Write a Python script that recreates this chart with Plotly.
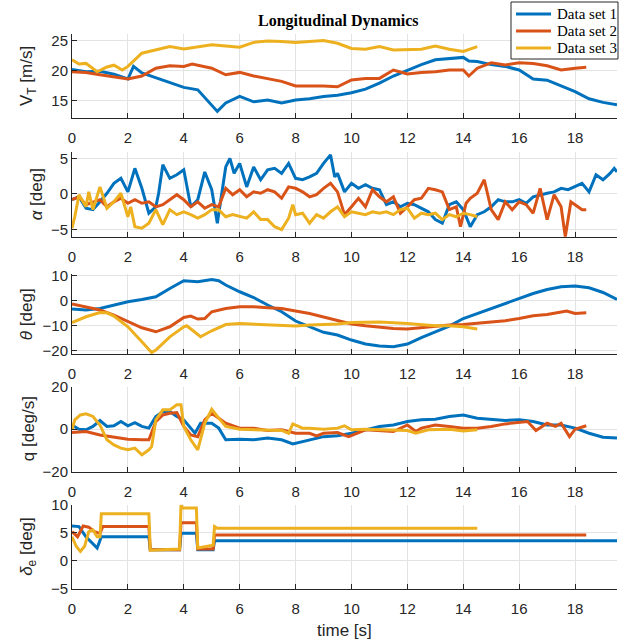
import plotly.graph_objects as go

C1, C2, C3 = "#0072BD", "#D95319", "#EDB120"
names = ["Data set 1", "Data set 2", "Data set 3"]

# ---------------- Panel 1: V_T [m/s]
vt_t = [0, 0.5, 1, 1.5, 2, 2.2, 2.5, 3, 3.5, 4, 4.5, 5, 5.2, 5.5, 6, 6.5, 7, 7.5, 8, 8.5, 9, 9.5, 10,
        10.5, 11, 11.5, 12, 12.5, 13, 13.5, 14, 14.2, 14.5, 15, 15.5, 16, 16.5, 17, 17.5, 18, 18.5, 19, 19.5]
vt1 = [20.2, 19.8, 19.9, 19.4, 18.6, 20.7, 19.6, 18.8, 17.9, 17.2, 16.8, 14.3, 13.2, 14.6, 15.7, 14.8, 15.1,
       14.6, 15.1, 15.3, 15.7, 15.9, 16.3, 16.9, 17.9, 19.1, 20.1, 21.0, 21.8, 21.95, 22.2, 21.6, 21.5, 21.0,
       20.7, 20.1, 18.6, 18.4, 17.45, 16.5, 15.3, 14.7, 14.3]
vt2_t = [0, 0.5, 1, 1.5, 2, 2.5, 3, 3.5, 4, 4.3, 4.5, 5, 5.5, 6, 6.5, 7, 7.5, 8, 8.5, 9, 9.5, 10, 10.5,
         11, 11.5, 12, 12.5, 13, 13.5, 14, 14.2, 14.5, 15, 15.5, 16, 16.5, 17, 17.5, 18, 18.4]
vt2 = [19.8, 19.7, 19.3, 19.0, 18.6, 19.1, 20.4, 20.8, 20.7, 21.1, 20.9, 20.4, 19.3, 19.7, 19.1, 18.6, 18.2,
       17.45, 17.45, 17.45, 17.3, 18.45, 18.7, 18.7, 20.1, 19.45, 19.7, 19.8, 20.1, 20.1, 19.1, 20.4, 21.3,
       20.95, 21.3, 21.2, 20.8, 20.1, 20.4, 20.55]
vt3_t = [0, 0.25, 0.5, 0.75, 0.9, 1.25, 1.5, 1.8, 2, 2.5, 3, 3.5, 4, 4.5, 5, 5.5, 6, 6.5, 7, 7.5, 8, 8.5,
         9, 9.5, 10, 10.5, 11, 11.5, 12, 12.5, 13, 13.5, 14, 14.5]
vt3 = [21.8, 21.1, 21.2, 20.4, 19.8, 20.6, 20.9, 20.1, 20.7, 22.9, 23.45, 24.0, 23.6, 24.0, 24.3, 24.1, 23.9,
       24.7, 24.95, 24.85, 24.7, 24.85, 25.0, 24.55, 23.7, 23.55, 24.0, 23.45, 23.55, 23.55, 24.1, 23.55,
       23.2, 24.0]

# ---------------- Panel 2: alpha [deg]
a1_t = [0, 0.25, 0.5, 0.75, 1, 1.25, 1.5, 1.75, 2, 2.25, 2.5, 2.75, 3, 3.1, 3.25, 3.5, 3.75, 4, 4.25, 4.5,
        4.75, 5, 5.2, 5.35, 5.5, 5.65, 5.8, 6, 6.25, 6.5, 6.75, 7, 7.25, 7.5, 7.75, 8, 8.25, 8.5, 8.75, 9,
        9.25, 9.4, 9.5, 9.75, 10, 10.25, 10.5, 10.75, 11, 11.25, 11.5, 11.75, 12, 12.25, 12.5, 12.75, 13,
        13.25, 13.5, 13.75, 14, 14.25, 14.5, 14.75, 15, 15.25, 15.5, 15.75, 16, 16.25, 16.5, 16.75, 17,
        17.25, 17.5, 17.75, 18, 18.25, 18.5, 18.75, 19, 19.25, 19.4, 19.5]
a1 = [-0.8, -0.4, -2.0, -2.2, -1.1, 0.1, 1.5, 2.2, 0.3, 3.6, 0.8, -2.7, -1.8, 0.1, 4.1, 2.2, 2.7, 3.4, -1.8,
      -0.8, 3.1, 0.6, -4.1, -0.4, 3.8, 5.0, 2.9, 4.3, 1.0, 3.8, 2.0, 3.4, 3.6, 2.9, 4.3, 2.2, 2.0, 2.4, 2.9,
      4.3, 5.5, 2.4, 2.9, 0.3, 1.5, 0.8, 1.3, 0.8, 0.6, -1.5, -1.1, -1.8, -1.3, -1.5, -2.0, -2.5, -3.6, -4.1,
      -1.5, -1.1, -2.2, -4.6, -2.9, -2.5, -1.8, -0.8, -1.1, -1.1, -0.8, -1.3, -0.4, -0.1, 0.1, 0.3, 0.8, 0.6,
      1.0, 1.5, 0.3, 2.7, 2.0, 2.9, 3.6, 3.1]
a2_t = [0, 0.25, 0.5, 0.75, 1, 1.25, 1.5, 1.75, 2, 2.25, 2.5, 2.75, 3, 3.25, 3.5, 3.75, 4, 4.25, 4.5, 4.75,
        5, 5.25, 5.5, 5.75, 6, 6.25, 6.5, 6.75, 7, 7.25, 7.5, 7.75, 8, 8.25, 8.5, 8.75, 9, 9.25, 9.5, 9.75,
        10, 10.25, 10.5, 10.75, 11, 11.25, 11.5, 11.75, 12, 12.25, 12.5, 12.75, 13, 13.25, 13.5, 13.75,
        13.9, 14.1, 14.25, 14.5, 14.75, 15, 15.25, 15.5, 15.75, 16, 16.25, 16.5, 16.75, 17, 17.25, 17.5,
        17.65, 17.85, 18, 18.25, 18.4]
a2 = [-0.8, -0.4, -1.5, -1.1, -0.8, -1.8, -1.1, -0.6, -1.3, -0.8, -1.3, -1.1, -1.8, -1.5, -0.8, -0.1, -0.8,
      -1.8, -1.1, -2.0, -1.5, -1.8, 0.8, -0.1, 0.6, -0.4, 0.3, 0.1, 0.6, 0.3, -0.6, 1.0, 0.8, 0.3, -0.4, -0.1,
      0.8, 1.5, 0.3, -2.9, -1.8, -0.6, -1.8, 0.6, -0.4, -1.1, -0.4, -2.7, -1.8, -0.8, -0.6, 0.8, 0.6, 0.3,
      -2.2, -1.8, -4.6, -1.3, -0.6, 0.1, 2.0, -2.2, -3.6, -1.1, -2.2, -1.1, -1.5, -2.7, 0.8, -3.6, -0.1, -1.8,
      -6.0, -1.1, -1.5, -2.2, -2.2]
a3_t = [0, 0.1, 0.25, 0.5, 0.6, 0.75, 1, 1.25, 1.5, 1.75, 2, 2.1, 2.25, 2.5, 2.75, 3, 3.25, 3.5, 3.75, 4,
        4.25, 4.5, 4.75, 5, 5.25, 5.5, 5.75, 6, 6.25, 6.5, 6.75, 7, 7.25, 7.5, 7.75, 7.9, 8, 8.25, 8.5, 8.75,
        9, 9.25, 9.5, 9.75, 10, 10.25, 10.5, 10.75, 11, 11.25, 11.5, 11.75, 12, 12.25, 12.5, 12.75, 13,
        13.25, 13.5, 13.75, 14, 14.25, 14.5]
a3 = [-4.8, -3.2, -0.1, -1.8, 0.3, -2.2, 1.0, -2.0, -1.1, 0.1, -3.2, -1.8, -4.6, -4.8, -4.1, -2.2, -4.3,
      -2.2, -2.9, -2.5, -2.9, -3.4, -2.9, -2.2, -2.2, -3.2, -2.9, -3.2, -3.4, -2.5, -3.6, -3.6, -4.6, -5.0,
      -3.4, -1.5, -2.9, -2.7, -4.1, -2.9, -3.4, -2.5, -1.8, -3.2, -2.5, -2.7, -2.9, -2.5, -2.7, -2.5, -2.9,
      -2.2, -2.0, -3.4, -2.7, -2.9, -2.7, -3.6, -2.9, -3.2, -2.7, -2.9, -3.2]

# ---------------- Panel 3: theta [deg]
th1_t = [0, 0.5, 1, 1.5, 2, 2.5, 3, 3.5, 4, 4.5, 5, 5.25, 5.5, 6, 6.5, 7, 7.5, 8, 8.5, 9, 9.5, 10, 10.5,
         11, 11.5, 12, 12.5, 13, 13.5, 14, 14.5, 15, 15.5, 16, 16.5, 17, 17.5, 18, 18.5, 19, 19.5]
th1 = [-3.3, -3.7, -3.1, -1.7, -0.4, 0.5, 1.6, 4.9, 8.0, 7.6, 8.5, 8.0, 6.3, 3.6, 1.3, -1.7, -4.4, -8.1,
       -10.4, -12.6, -13.7, -15.7, -17.3, -18.1, -18.4, -17.3, -14.7, -12.4, -10.1, -7.1, -5.1, -3.1, -1.1,
       0.9, 2.9, 4.5, 5.6, 5.9, 5.2, 3.3, 0.5]
th2_t = [0, 0.5, 1, 1.5, 2, 2.5, 3, 3.5, 4, 4.25, 4.5, 4.75, 5, 5.5, 6, 6.5, 7, 7.5, 8, 8.5, 9, 9.5, 10,
         10.5, 11, 11.5, 12, 12.5, 13, 13.5, 14, 14.5, 15, 15.5, 16, 16.5, 17, 17.5, 17.7, 18, 18.4]
th2 = [-1.3, -2.4, -3.7, -5.7, -8.1, -10.8, -12.4, -10.4, -6.7, -6.1, -7.3, -7.1, -4.4, -3.1, -2.4, -2.4,
       -2.8, -3.1, -4.1, -5.1, -6.5, -8.0, -9.3, -10.0, -10.7, -11.1, -11.3, -10.7, -10.1, -9.7, -9.5, -9.1,
       -8.7, -8.0, -7.1, -6.0, -5.5, -4.4, -4.1, -5.1, -4.8]
th3_t = [0, 0.5, 1, 1.25, 1.5, 2, 2.5, 2.85, 3, 3.5, 4, 4.1, 4.3, 4.6, 5, 5.5, 6, 6.5, 7, 7.5, 8, 8.5, 9,
         9.5, 10, 11, 12, 12.5, 13, 13.5, 14, 14.5]
th3 = [-8.7, -6.4, -4.7, -4.8, -6.1, -10.4, -16.4, -20.7, -19.7, -14.4, -10.4, -10.0, -11.7, -14.4, -12.0,
       -9.5, -9.1, -9.3, -9.5, -10.0, -10.1, -9.7, -9.5, -9.3, -8.7, -8.5, -9.1, -9.7, -10.0, -10.0, -10.4,
       -11.3]

# ---------------- Panel 4: q [deg/s]
q1_t = [0, 0.25, 0.5, 0.75, 1, 1.25, 1.5, 1.75, 2, 2.25, 2.5, 2.75, 3, 3.25, 3.5, 3.75, 4, 4.25, 4.4, 4.6,
        5, 5.25, 5.5, 6, 6.5, 7, 7.5, 7.9, 8.5, 9, 9.5, 10, 10.5, 11, 11.5, 12, 12.5, 13, 13.5, 14, 14.5,
        15, 15.5, 16, 16.5, 17, 17.5, 18, 18.5, 19, 19.5]
q1 = [2.0, 0.0, -0.3, 1.3, 4.1, 1.3, 1.6, 3.6, 1.6, 3.1, 1.3, 0.5, 6.0, 8.3, 8.3, 6.0, 4.4, 0.5, -1.9, 2.8,
      2.8, 0.5, -5.0, -4.7, -5.0, -4.2, -5.0, -6.9, -5.0, -3.5, -3.1, -1.9, -0.3, 1.3, 2.0, 3.6, 4.4, 4.7,
      6.0, 6.7, 5.2, 4.7, 4.1, 4.4, 3.6, 2.0, 2.0, 0.5, -1.9, -3.8, -4.2]
q2_t = [0, 0.5, 1, 1.5, 2, 2.5, 2.75, 3, 3.25, 3.5, 3.75, 4, 4.25, 4.5, 4.75, 5, 5.25, 5.5, 6, 6.5, 7,
        7.5, 8, 8.5, 8.75, 9, 9.5, 9.9, 10.5, 11, 11.5, 12, 12.3, 12.5, 13, 13.5, 14, 14.5, 15, 15.5, 16,
        16.3, 16.6, 17, 17.3, 17.5, 17.8, 18, 18.4]
q2 = [-1.6, -1.1, -2.7, -3.8, -4.7, -5.0, -5.0, 3.6, 6.7, 7.5, 7.8, 1.3, -2.7, -3.5, 4.4, 7.5, 5.2, 2.8,
      0.5, 0.5, -0.6, -0.3, -1.9, -1.9, -3.1, -1.9, -1.6, -3.5, -0.3, -0.6, -1.1, 2.0, -1.1, 0.5, 2.0, 1.3,
      0.5, 0.5, 1.3, 2.5, 3.1, 3.6, -0.6, 2.8, 1.3, 2.8, -3.5, 0.0, 1.6]
q3_t = [0, 0.1, 0.3, 0.5, 0.75, 1, 1.25, 1.5, 1.75, 2, 2.25, 2.5, 2.75, 2.85, 3, 3.25, 3.5, 3.75, 3.9, 4,
        4.25, 4.5, 4.75, 5, 5.25, 5.5, 6, 6.5, 7, 7.5, 7.75, 7.9, 8.25, 8.5, 9, 9.5, 9.75, 10, 10.5, 11,
        11.5, 12, 12.3, 12.75, 13.5, 14, 14.5]
q3 = [-0.3, 4.4, 6.7, 7.2, 6.0, 2.0, -5.0, -7.4, -8.9, -9.7, -8.9, -12.1, -9.7, -8.2, 4.4, 9.1, 9.1, 11.5,
      11.5, 1.3, -5.0, -9.7, 2.8, 9.4, 5.2, 1.3, 0.0, -0.3, -0.6, -0.6, -1.9, 2.5, 0.5, 0.5, 0.0, 0.5, 1.6,
      -0.3, 0.0, -0.3, -0.6, -0.6, -1.9, -0.3, 0.0, -0.8, -0.3]

# ---------------- Panel 5: delta_e [deg]
d1_t = [0, 0.25, 0.5, 0.75, 0.9, 1.05, 2.75, 2.8, 3.85, 3.9, 4.45, 4.5, 5.05, 5.1, 19.5]
d1 = [6.2, 6.1, 4.3, 3.1, 2.3, 4.3, 4.3, 2.0, 2.0, 4.9, 4.9, 2.0, 2.0, 3.6, 3.6]
d2_t = [0, 0.2, 0.4, 0.6, 0.8, 1.0, 1.1, 2.75, 2.8, 3.85, 3.9, 4.45, 4.5, 5.05, 5.1, 18.4]
d2 = [5.2, 4.3, 6.2, 6.0, 5.2, 4.9, 6.1, 6.1, 2.0, 2.0, 6.8, 6.8, 2.1, 2.1, 4.6, 4.6]
d3_t = [0, 0.15, 0.3, 0.45, 0.6, 0.75, 0.9, 1.0, 1.05, 2.75, 2.8, 3.85, 3.9, 3.95, 4.45, 4.5, 5.05, 5.1,
        5.2, 14.5]
d3 = [4.3, 2.6, 1.7, 2.6, 5.2, 5.5, 4.3, 4.3, 8.4, 8.4, 1.9, 2.1, 10.0, 9.4, 9.4, 2.3, 2.8, 6.1, 5.8, 5.8]

panels = [
    [(vt_t, vt1), (vt2_t, vt2), (vt3_t, vt3)],
    [(a1_t, a1), (a2_t, a2), (a3_t, a3)],
    [(th1_t, th1), (th2_t, th2), (th3_t, th3)],
    [(q1_t, q1), (q2_t, q2), (q3_t, q3)],
    [(d1_t, d1), (d2_t, d2), (d3_t, d3)],
]
y_ranges = [[12.1, 26.1], [-6.0, 5.9], [-21.4, 10.7], [-20, 20], [-5, 10]]
y_ticks = [[15, 20, 25], [-5, 0, 5], [-20, -10, 0, 10], [-20, 0, 20], [-5, 0, 5, 10]]
y_labels = ["V<sub>T</sub> [m/s]", "<i>α</i> [deg]", "<i>θ</i> [deg]", "q [deg/s]",
            "<i>δ</i><sub>e</sub> [deg]"]
label_x_px = [28, 36, 26, 28, 28]
x_ticks = [0, 2, 4, 6, 8, 10, 12, 14, 16, 18]

# layout geometry (pixels)
W, H = 638, 643
L, R, T, B = 72, 21, 34, 54
ph = H - T - B
pw = W - L - R
panel_px = [(34, 118), (152, 236.7), (274, 354.3), (386.7, 471.7), (504.7, 589)]
domains = [[(H - B - b) / ph, (H - B - t) / ph] for (t, b) in panel_px]
domains[4][0] = 0.0
domains[0][1] = 1.0


def px_x(p):
    return (p - L) / pw


def px_y(p):
    return (H - B - p) / ph


colors = [C1, C2, C3]
LW = 3
fig = go.Figure()
for i, series in enumerate(panels):
    for j, (tt, vv) in enumerate(series):
        fig.add_trace(go.Scatter(
            x=tt, y=vv, mode="lines", name=names[j],
            line=dict(color=colors[j], width=LW),
            showlegend=False,
            xaxis="x" if i == 0 else f"x{i+1}",
            yaxis="y" if i == 0 else f"y{i+1}",
        ))

AX = "#262626"
GRID = "#e3e3e3"
tickfont = dict(family="Liberation Sans, Arial, sans-serif", size=15, color=AX)
layout = dict(
    width=W, height=H,
    margin=dict(l=L, r=R, t=T, b=B),
    plot_bgcolor="white", paper_bgcolor="white",
    showlegend=False,
)
annotations = []
shapes = []
for i in range(5):
    sx = "" if i == 0 else str(i + 1)
    layout[f"xaxis{sx}"] = dict(
        domain=[0, 1], anchor=f"y{sx}", range=[0, 19.5], tickvals=x_ticks,
        showgrid=True, gridcolor=GRID, gridwidth=1, zeroline=False,
        showline=True, linecolor=AX, linewidth=1, mirror=False,
        ticks="inside", ticklen=5, tickcolor=AX, tickwidth=1,
        tickfont=tickfont, ticklabelstandoff=6,
    )
    layout[f"yaxis{sx}"] = dict(
        domain=domains[i], anchor=f"x{sx}", range=y_ranges[i], tickvals=y_ticks[i],
        showgrid=True, gridcolor=GRID, gridwidth=1, zeroline=False,
        showline=True, linecolor=AX, linewidth=1, mirror=False,
        ticks="inside", ticklen=5, tickcolor=AX, tickwidth=1,
        tickfont=tickfont,
    )
    t_px, b_px = panel_px[i]
    annotations.append(dict(
        text=y_labels[i], textangle=-90, xref="paper", yref="paper",
        x=px_x(label_x_px[i]), y=px_y((t_px + b_px) / 2),
        xanchor="center", yanchor="middle", showarrow=False,
        font=dict(family="Liberation Sans, Arial, sans-serif", size=17, color=AX),
    ))
annotations.append(dict(
    text="time [s]", xref="paper", yref="paper", x=0.5, y=px_y(630),
    xanchor="center", yanchor="middle", showarrow=False,
    font=dict(family="Liberation Sans, Arial, sans-serif", size=17, color=AX),
))
annotations.append(dict(
    text="<b>Longitudinal Dynamics</b>", xref="paper", yref="paper", x=px_x(338),
    y=px_y(21), xanchor="center", yanchor="middle", showarrow=False,
    font=dict(family="Liberation Serif, Times New Roman, serif", size=16, color="black"),
))

# legend box (drawn as paper shapes + text)
shapes.append(dict(type="rect", xref="paper", yref="paper",
                   x0=px_x(511), x1=px_x(618), y0=px_y(59), y1=px_y(2),
                   line=dict(color=AX, width=1), fillcolor="white", layer="above"))
leg_y = [14, 31, 48]
for j in range(3):
    shapes.append(dict(type="line", xref="paper", yref="paper",
                       x0=px_x(516), x1=px_x(551), y0=px_y(leg_y[j]), y1=px_y(leg_y[j]),
                       line=dict(color=colors[j], width=LW), layer="above"))
    annotations.append(dict(
        text=names[j], xref="paper", yref="paper", x=px_x(555), y=px_y(leg_y[j]),
        xanchor="left", yanchor="middle", showarrow=False,
        font=dict(family="Liberation Serif, Times New Roman, serif", size=15, color="black"),
    ))
layout["annotations"] = annotations
layout["shapes"] = shapes
fig.update_layout(**layout)
fig.write_html("out.html")
